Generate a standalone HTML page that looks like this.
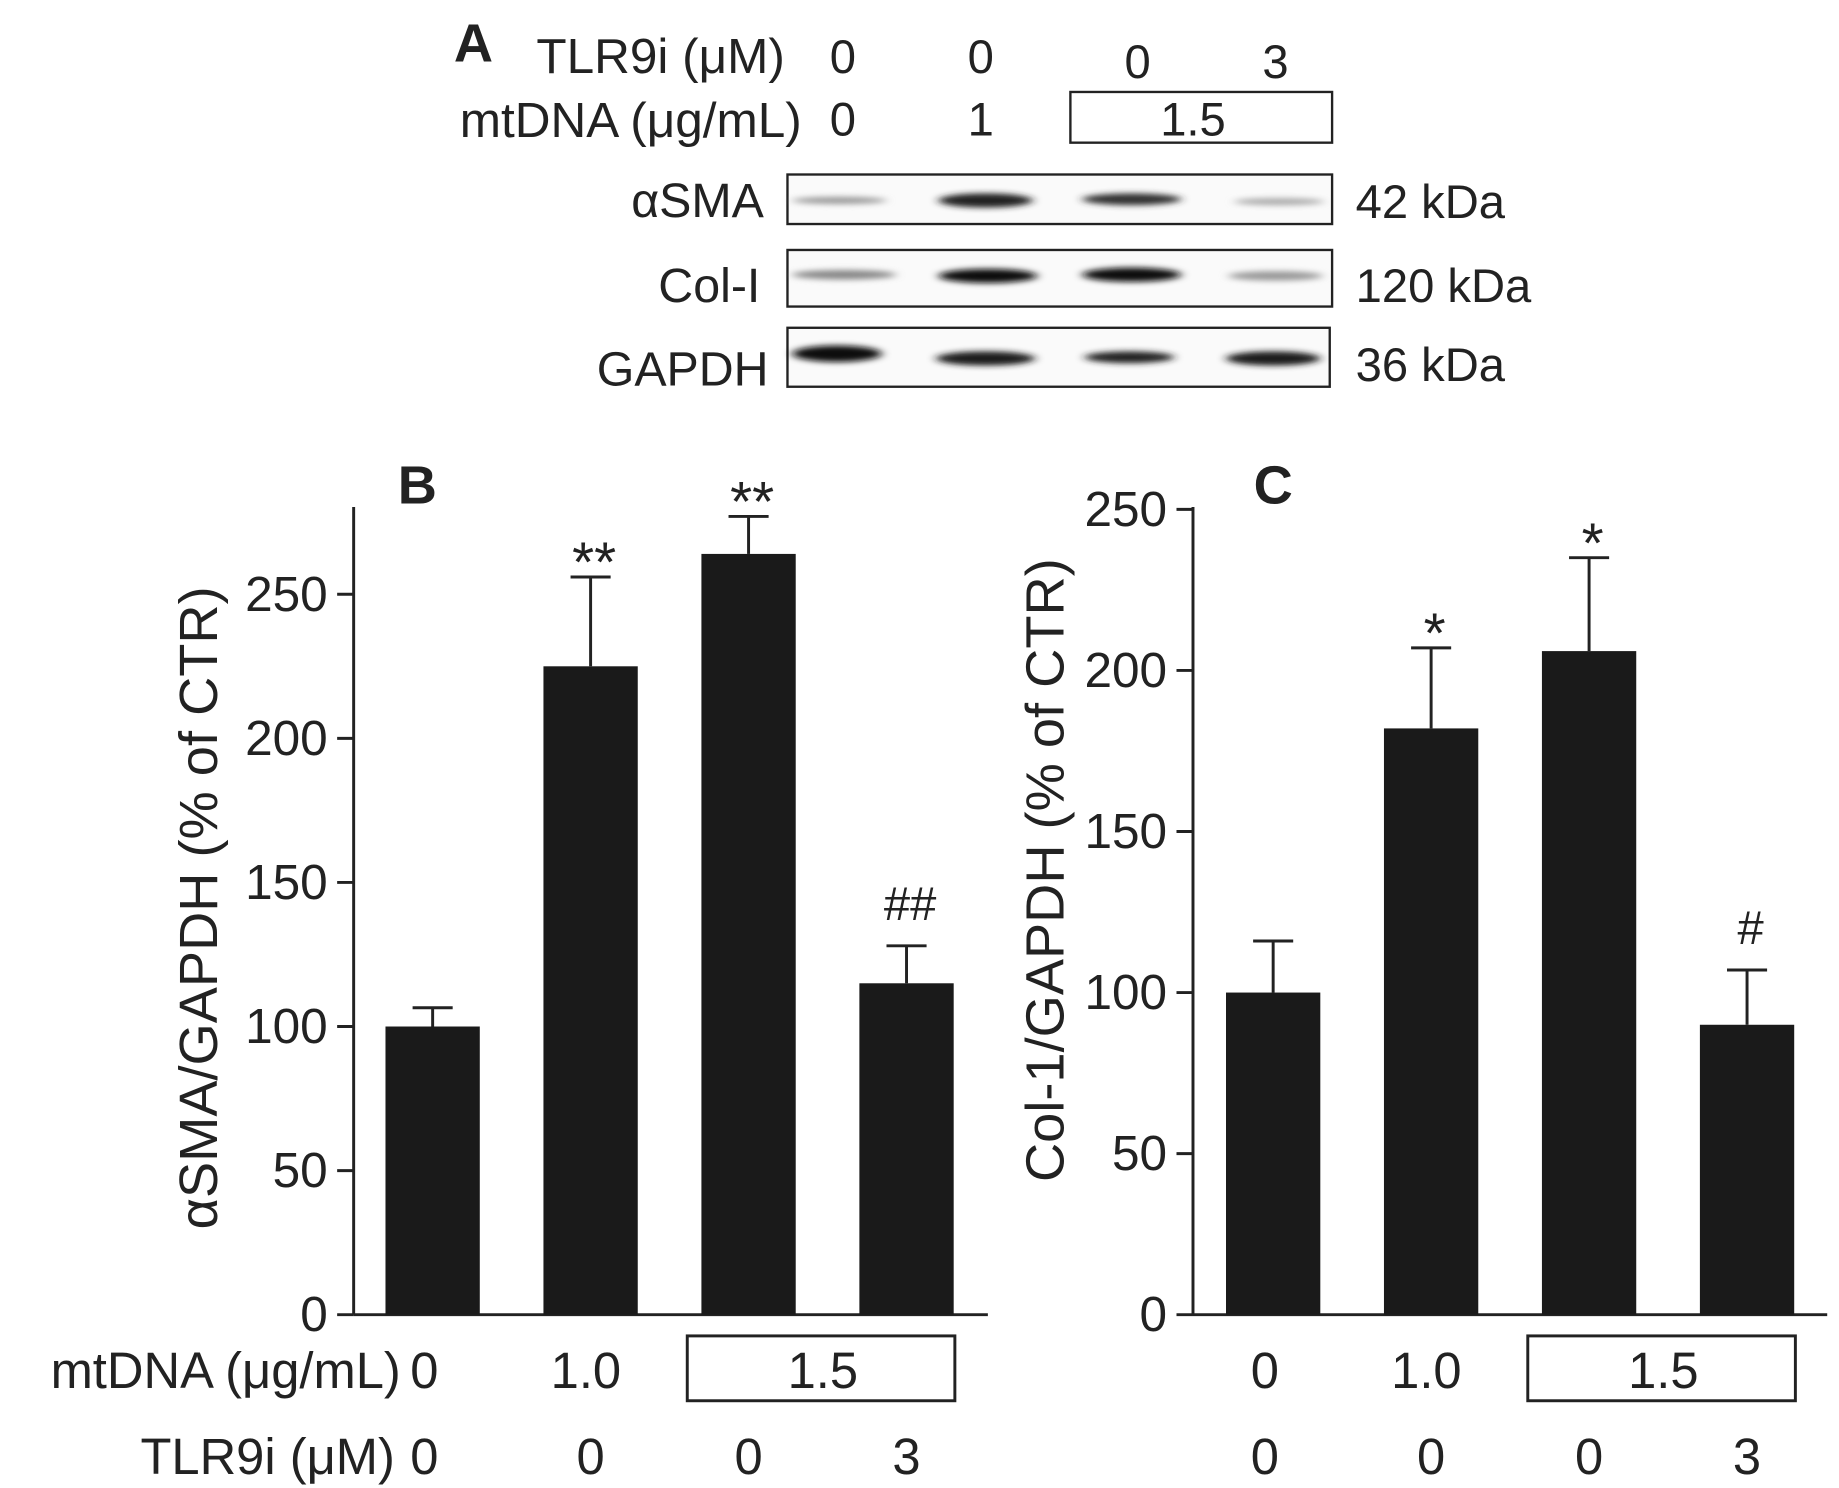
<!DOCTYPE html>
<html><head><meta charset="utf-8"><style>
html,body{margin:0;padding:0;background:#fff}
svg{display:block;font-family:"Liberation Sans",Arial,sans-serif}
</style></head><body>
<svg id="fig" width="1839" height="1488" viewBox="0 0 1560 1262" preserveAspectRatio="none" xmlns="http://www.w3.org/2000/svg">
<defs><filter id="bl" x="-30%" y="-100%" width="160%" height="300%"><feGaussianBlur stdDeviation="4 2.5"/></filter></defs>
<g font-size="42" fill="#222">
<text x="385" y="52" font-weight="bold" font-size="46">A</text>
<text x="455" y="62">TLR9i (μM)</text>
<text x="390" y="116">mtDNA (μg/mL)</text>
<g text-anchor="middle" font-size="40">
<text x="715" y="62">0</text><text x="832" y="62">0</text><text x="965" y="66">0</text><text x="1082" y="66">3</text>
<text x="715" y="115">0</text><text x="832" y="115">1</text><text x="1012" y="115">1.5</text>
</g>
<rect x="908" y="78" width="222" height="43" fill="none" stroke="#222" stroke-width="2"/>
<g text-anchor="end" font-size="41">
<text x="648" y="184">αSMA</text>
<text x="645" y="256">Col-I</text>
<text x="652" y="327">GAPDH</text>
</g>
<g font-size="40">
<text x="1150" y="185">42 kDa</text><text x="1150" y="256">120 kDa</text><text x="1150" y="323">36 kDa</text>
</g>
<g><rect x="668" y="148" width="462" height="42" fill="#fafafa" stroke="#222" stroke-width="2"/>
<g filter="url(#bl)"><ellipse cx="712" cy="170" rx="40" ry="3" fill="#999"/><ellipse cx="836" cy="170" rx="40" ry="6" fill="#222"/><ellipse cx="960" cy="169" rx="42" ry="5" fill="#333"/><ellipse cx="1085" cy="171" rx="38" ry="3" fill="#aaa"/></g></g>
<g><rect x="668" y="212" width="462" height="48" fill="#fafafa" stroke="#222" stroke-width="2"/>
<g filter="url(#bl)"><ellipse cx="716" cy="233" rx="44" ry="4" fill="#888"/><ellipse cx="838" cy="234" rx="42" ry="6" fill="#111"/><ellipse cx="960" cy="233" rx="42" ry="6" fill="#111"/><ellipse cx="1082" cy="234" rx="40" ry="4" fill="#999"/></g></g>
<g><rect x="668" y="278" width="460" height="50" fill="#fafafa" stroke="#222" stroke-width="2"/>
<g filter="url(#bl)"><ellipse cx="710" cy="300" rx="38" ry="7" fill="#111"/><ellipse cx="836" cy="304" rx="42" ry="6" fill="#1a1a1a"/><ellipse cx="958" cy="303" rx="38" ry="5" fill="#222"/><ellipse cx="1080" cy="304" rx="40" ry="6" fill="#1a1a1a"/></g></g>
</g>
<g id="charts"></g>
<script>
const categories=["CTR","mtDNA 1.0","mtDNA 1.5","mtDNA 1.5 + TLR9i 3"];
const asmaValues=[100,225,264,115];
const asmaErrors=[6.5,31,13,13];
const asmaMarks=["","**","**","##"];
const colValues=[100,182,206,90];
const colErrors=[16,25,29,17];
const colMarks=["","*","*","#"];
const yTicks=[0,50,100,150,200,250];
const mtdnaLabels=["0","1.0","1.5"];
const tlr9iLabels=["0","0","0","3"];
const NS="http://www.w3.org/2000/svg";
const root=document.getElementById('charts');
function el(tag,attrs,parent,text){const e=document.createElementNS(NS,tag);for(const k in attrs)e.setAttribute(k,attrs[k]);if(text!==undefined)e.textContent=text;(parent||root).appendChild(e);return e;}
function chart(cfg){
 const g=el('g',{});
 
 
 const y=v=>cfg.y0-(v/250)*(cfg.y0-cfg.y250);
 const x=i=>cfg.x0+cfg.step*i;
 const ax=el('line',{x1:cfg.ax,y1:430,x2:cfg.ax,y2:cfg.y0,stroke:'#222','stroke-width':2.5},g);
 
 
 const xa=el('line',{x1:cfg.ax,y1:cfg.y0,x2:cfg.xEnd,y2:cfg.y0,stroke:'#222','stroke-width':2.5},g);
 
 
 yTicks.forEach(t=>{
  el('line',{x1:cfg.ax-14,y1:y(t),x2:cfg.ax,y2:y(t),stroke:'#222','stroke-width':2.5},g);
  const tl=el('text',{x:cfg.ax-22,y:y(t)+14,'text-anchor':'end','font-size':42,fill:'#222'},g,String(t));
  
  
 });
 cfg.values.forEach((v,i)=>{
  const cx=x(i),top=y(v+cfg.errors[i]);
  el('line',{x1:cx,y1:y(v),x2:cx,y2:top,stroke:'#222','stroke-width':2.5},g);
  el('line',{x1:cx-17,y1:top,x2:cx+17,y2:top,stroke:'#222','stroke-width':2.5},g);
  const b=el('rect',{x:cx-40,y:y(v),width:80,height:cfg.y0-y(v),fill:'#1a1a1a'},g);
  
  
  if(cfg.marks[i]){const star=cfg.marks[i].startsWith('*');
   const m=el('text',{x:cx+3,y:star?top+4:top-22,'text-anchor':'middle','font-size':star?48:40,fill:'#222'},g,cfg.marks[i]);
   
   }
 });
 const tt=el('text',{transform:`translate(${cfg.tx},${cfg.ty}) rotate(-90)`,'text-anchor':'middle','font-size':46,fill:'#222'},g,cfg.title);
 
 
 const pl=el('text',{x:cfg.px,y:427,'font-size':46,'font-weight':'bold','text-anchor':'middle',fill:'#222'},g,cfg.panel);
 
 
 [0,1].forEach(i=>{const t=el('text',{x:x(i)-4+(i?0:-3),y:1177,'text-anchor':'middle','font-size':43,fill:'#222'},g,mtdnaLabels[i]);
  
  });
 const bx=el('rect',{x:x(2)-52,y:1133,width:227,height:55,fill:'none',stroke:'#222','stroke-width':2.5},g);
 
 
 el('text',{x:x(2)+63,y:1177,'text-anchor':'middle','font-size':43,fill:'#222'},g,mtdnaLabels[2]);
 tlr9iLabels.forEach((l,i)=>{const t=el('text',{x:x(i)+(i==0?-7:0),y:1250,'text-anchor':'middle','font-size':43,fill:'#222'},g,l);
  
  });
}
chart({name:'chart-asma',ax:300,xEnd:838,y0:1115,y250:504,x0:367,step:134,values:asmaValues,errors:asmaErrors,marks:asmaMarks,title:'αSMA/GAPDH (% of CTR)',tx:184,ty:770,panel:'B',px:354});
chart({name:'chart-col1',ax:1012,xEnd:1550,y0:1115,y250:432,x0:1080,step:134,values:colValues,errors:colErrors,marks:colMarks,title:'Col-1/GAPDH (% of CTR)',tx:902,ty:738,panel:'C',px:1080});
const r1=el('text',{x:340,y:1177,'text-anchor':'end','font-size':43,fill:'#222'},root,'mtDNA (μg/mL)');


const r2=el('text',{x:335,y:1250,'text-anchor':'end','font-size':43,fill:'#222'},root,'TLR9i (μM)');


</script>
</svg>
</body></html>
